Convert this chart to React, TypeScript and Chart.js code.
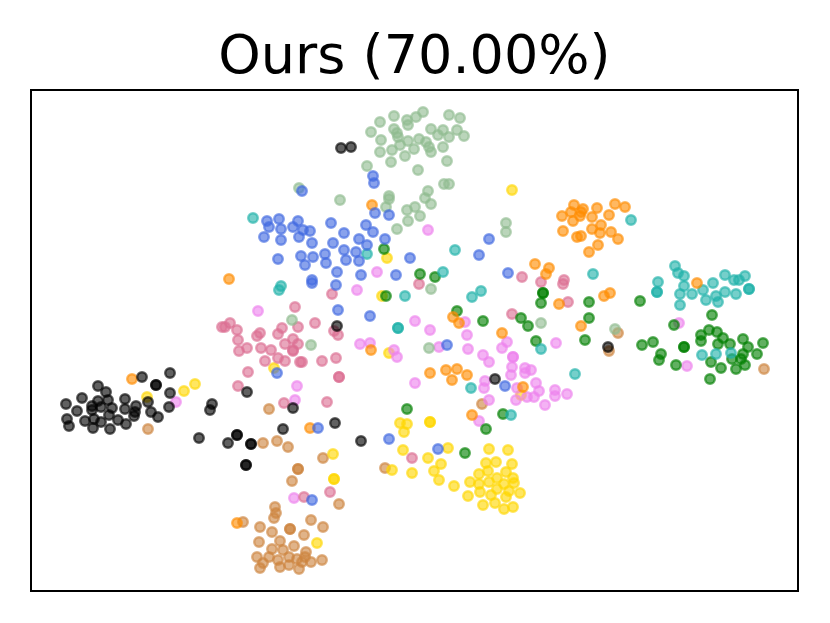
import React, { useEffect, useRef } from "react";
import { Chart, registerables } from "chart.js";

Chart.register(...registerables);

type P = [number, number];

const titleText = "Ours (70.00%)";

const classBlack: P[] = [
  [341,148],[351,147],[337,326],[142,377],[170,373],[156,385],[156,385],[98,386],[82,398],[66,404],[106,392],[108,400],[98,401],[92,406],[92,410],[101,407],[112,408],[125,399],[125,409],[136,406],[135,412],[134,416],[77,411],[67,419],[69,426],[85,421],[94,419],[93,428],[101,422],[109,415],[110,429],[118,420],[126,424],[148,402],[151,412],[158,417],[170,393],[169,407],[212,404],[210,410],[199,438],[228,443],[237,435],[237,435],[251,444],[251,444],[246,465],[246,465],[247,392],[283,429],[293,408],[608,347],[495,379],[335,423],[361,441],
];
const classBlue: P[] = [
  [267,221],[279,219],[269,227],[281,229],[264,237],[281,240],[293,227],[298,221],[299,237],[278,259],[301,256],[302,191],[373,176],[374,183],[375,213],[389,215],[331,223],[303,230],[310,231],[312,243],[344,233],[366,225],[373,232],[359,239],[385,239],[333,243],[367,245],[344,250],[356,252],[325,254],[326,263],[313,257],[305,265],[346,260],[359,261],[337,272],[361,275],[410,258],[396,275],[312,280],[312,283],[336,285],[338,310],[370,316],[489,239],[479,255],[508,273],[277,373],[447,345],[505,386],[318,428],[389,439],[438,449],[312,500],
];
const classSage: P[] = [
  [394,116],[423,112],[416,117],[407,120],[408,125],[449,115],[460,118],[380,122],[371,132],[394,129],[397,133],[398,137],[431,129],[443,130],[457,130],[438,135],[449,137],[464,136],[381,140],[408,141],[419,139],[426,142],[400,145],[392,150],[380,152],[414,149],[429,147],[431,152],[443,147],[405,156],[391,162],[447,161],[367,166],[418,170],[444,184],[449,184],[428,191],[389,196],[389,199],[425,198],[431,204],[386,207],[415,207],[407,210],[420,216],[408,221],[397,229],[340,200],[299,188],[506,223],[506,232],[431,289],[541,323],[292,320],[311,345],[429,348],[615,329],
];
const classOrange: P[] = [
  [229,279],[372,205],[535,264],[549,268],[546,274],[453,317],[459,323],[502,333],[574,205],[583,209],[562,216],[571,212],[581,212],[580,216],[573,221],[597,208],[592,217],[609,215],[615,204],[625,207],[601,225],[563,231],[592,229],[600,233],[611,232],[618,239],[577,237],[581,236],[598,245],[589,252],[697,283],[604,296],[610,293],[559,304],[581,326],[132,379],[237,523],[371,350],[430,373],[446,370],[457,369],[467,375],[452,380],[523,387],[472,415],[310,428],
];
const classTeal: P[] = [
  [253,218],[281,286],[279,290],[367,254],[455,250],[443,272],[405,296],[472,297],[481,291],[398,328],[398,328],[631,220],[593,274],[675,266],[678,273],[684,276],[658,282],[657,292],[657,292],[684,286],[680,294],[680,305],[692,294],[703,290],[713,283],[725,275],[734,280],[739,280],[745,276],[749,289],[749,289],[725,292],[736,294],[706,300],[716,296],[718,302],[702,355],[716,354],[731,353],[575,374],[541,349],[471,388],[511,415],
];
const classGreen: P[] = [
  [384,249],[420,274],[435,277],[386,296],[543,293],[543,293],[541,303],[457,311],[483,321],[521,318],[528,326],[536,341],[589,302],[589,318],[585,340],[640,301],[642,345],[653,342],[661,354],[659,360],[676,365],[684,347],[684,347],[674,325],[712,315],[701,335],[701,341],[709,330],[717,332],[723,338],[718,344],[730,344],[743,339],[748,347],[763,343],[757,354],[743,354],[732,359],[741,359],[745,365],[736,369],[721,368],[711,362],[710,379],[407,409],[503,414],[486,429],[465,453],
];
const classPink: P[] = [
  [295,307],[222,327],[225,327],[230,323],[237,330],[238,340],[282,328],[260,333],[257,336],[278,334],[298,327],[419,284],[332,294],[315,323],[334,331],[338,335],[522,277],[541,282],[564,280],[563,284],[568,302],[512,314],[239,351],[247,348],[261,348],[271,350],[285,344],[293,350],[278,358],[285,361],[265,361],[248,372],[300,362],[238,386],[284,403],[293,339],[298,344],[293,351],[302,362],[322,361],[336,358],[339,377],[339,377],[327,402],[412,458],[330,492],[304,497],
];
const classViolet: P[] = [
  [258,311],[428,230],[377,272],[357,290],[415,321],[430,330],[465,322],[467,335],[679,323],[687,366],[556,343],[555,390],[555,396],[567,394],[176,402],[297,386],[295,400],[294,498],[360,344],[370,343],[394,350],[397,357],[415,383],[439,347],[468,349],[483,355],[489,362],[502,348],[507,342],[513,357],[513,357],[512,367],[511,375],[525,368],[525,373],[531,370],[485,381],[484,388],[517,388],[489,400],[516,400],[527,397],[534,397],[539,391],[536,383],[545,405],[479,421],
];
const classGold: P[] = [
  [387,258],[512,190],[382,296],[147,397],[184,391],[195,384],[274,368],[389,353],[521,395],[430,422],[430,422],[400,423],[407,424],[404,432],[403,450],[333,454],[334,479],[334,479],[392,470],[412,473],[428,458],[448,448],[441,464],[434,471],[439,480],[454,486],[489,449],[508,450],[486,463],[496,462],[512,464],[488,471],[506,472],[479,474],[497,478],[513,478],[470,482],[479,484],[489,482],[504,484],[514,483],[497,489],[509,491],[480,492],[491,495],[506,497],[520,493],[468,496],[483,505],[495,503],[504,509],[513,507],[317,543],
];
const classTan: P[] = [
  [618,333],[609,351],[764,369],[148,429],[269,409],[263,443],[277,441],[288,447],[298,469],[298,469],[292,481],[243,522],[275,507],[276,513],[274,518],[260,527],[272,532],[290,529],[290,529],[311,520],[323,527],[304,535],[259,542],[280,541],[294,546],[272,549],[283,550],[257,557],[269,557],[278,560],[289,557],[297,559],[306,552],[305,557],[311,562],[322,560],[263,563],[260,568],[280,567],[289,565],[299,569],[302,562],[482,404],[323,458],[385,468],[339,504],
];

const seriesList: { points: P[]; color: string }[] = [
  { points: classBlack, color: "0,0,0" },
  { points: classBlue, color: "65,105,225" },
  { points: classSage, color: "143,188,143" },
  { points: classOrange, color: "255,140,0" },
  { points: classTeal, color: "32,178,170" },
  { points: classGreen, color: "0,128,0" },
  { points: classPink, color: "219,112,147" },
  { points: classViolet, color: "238,130,238" },
  { points: classGold, color: "255,215,0" },
  { points: classTan, color: "205,133,63" },
];

const framePlugin = {
  id: "frame",
  afterDraw(chart: any) {
    const { ctx, chartArea: a } = chart;
    ctx.save();
    ctx.strokeStyle = "#000";
    ctx.lineWidth = 2;
    ctx.strokeRect(a.left, a.top, a.right - a.left, a.bottom - a.top);
    ctx.restore();
  },
};

export default function App() {
  const ref = useRef<HTMLCanvasElement>(null);
  useEffect(() => {
    const chart = new Chart(ref.current!, {
      type: "scatter",
      data: {
        datasets: seriesList.map((s) => ({
          data: s.points.map(([x, y]) => ({ x, y })),
          backgroundColor: `rgba(${s.color},0.62)`,
          borderColor: `rgba(${s.color},0.62)`,
          borderWidth: 2.4,
          pointRadius: 4.8,
        })),
      },
      options: {
        animation: false,
        responsive: false,
        layout: { padding: { left: 23, right: 32, top: 32, bottom: 24 } },
        plugins: {
          legend: { display: false },
          tooltip: { enabled: false },
          title: {
            display: true,
            fullSize: false,
            text: titleText,
            color: "#000",
            font: { family: "DejaVu Sans", size: 54, weight: "normal", lineHeight: 1 },
            padding: { top: 0, bottom: 4 },
          },
        },
        scales: {
          x: {
            type: "linear",
            min: 31,
            max: 798,
            ticks: { display: false },
            grid: { display: false },
            border: { display: false },
          },
          y: {
            type: "linear",
            reverse: true,
            min: 90,
            max: 591,
            ticks: { display: false },
            grid: { display: false },
            border: { display: false },
          },
        },
      },
      plugins: [framePlugin],
    } as any);
    return () => chart.destroy();
  }, []);
  return (
    <canvas
      ref={ref}
      width={830}
      height={623}
      style={{ position: "absolute", left: 0, top: 0, display: "block" }}
    />
  );
}
